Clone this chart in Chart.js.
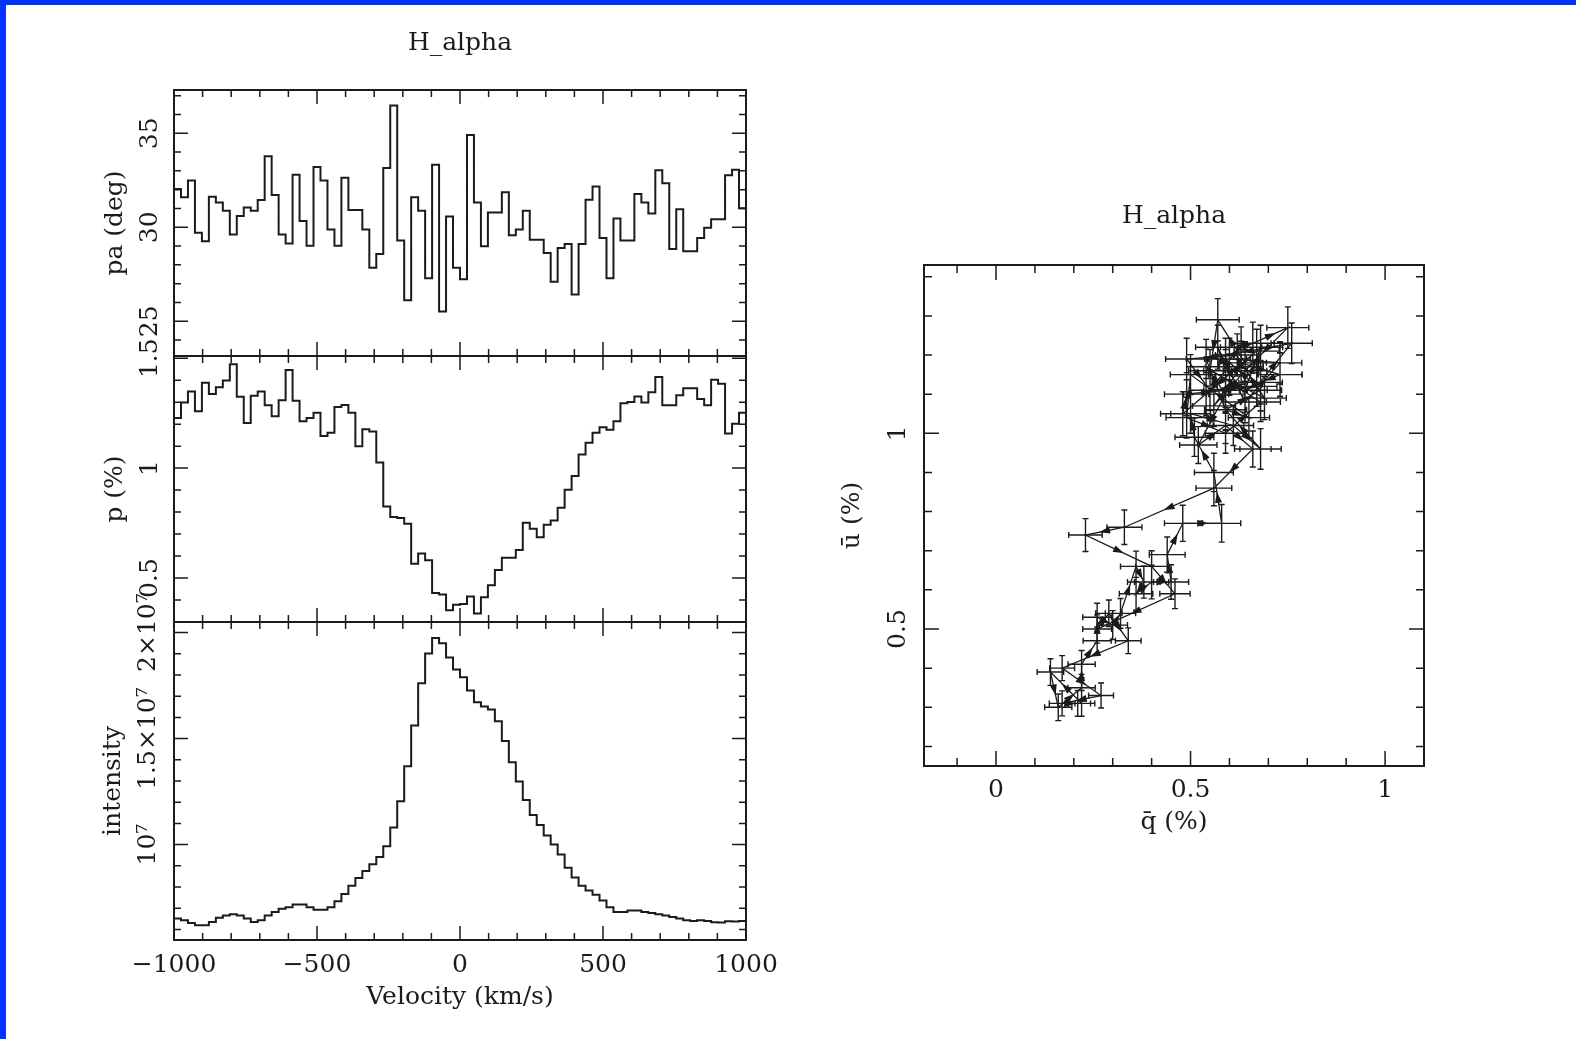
<!DOCTYPE html>
<html>
<head>
<meta charset="utf-8">
<script src="https://cdn.jsdelivr.net/npm/chart.js@4.4.1/dist/chart.umd.min.js"></script>
<style>
  html, body { margin: 0; padding: 0; background: #fff; }
  #page { position: relative; width: 1576px; height: 1039px; overflow: hidden; background: #fff; }
  #page canvas { position: absolute; left: 0; top: 0; }
  .edgeTop { position: absolute; left: 0; top: 0; width: 1576px; height: 5px; background: #0033ff; }
  .edgeLeft { position: absolute; left: 0; top: 0; width: 6px; height: 1039px; background: #0033ff; }
</style>
</head>
<body>
<div id="page">
  <canvas id="cPa" width="1576" height="1039"></canvas>
  <canvas id="cP" width="1576" height="1039"></canvas>
  <canvas id="cInt" width="1576" height="1039"></canvas>
  <canvas id="cQU" width="1576" height="1039"></canvas>
  <div class="edgeTop"></div>
  <div class="edgeLeft"></div>
</div>
<script>
// H_alpha spectropolarimetry, 82 velocity bins from -1000 to 1000 km/s

const vMin = -1000, vMax = 1000;

// position angle (deg)
const paDeg = [
  32.04, 31.59, 32.49, 29.70, 29.25, 31.62, 31.32, 30.87, 29.61, 30.60,
  31.05, 30.87, 31.45, 33.78, 31.71, 29.61, 29.13, 32.79, 30.33, 29.02,
  33.20, 32.49, 29.88, 29.02, 32.63, 30.91, 30.91, 29.88, 27.85, 28.57,
  33.15, 36.47, 29.29, 26.11, 31.59, 30.87, 27.28, 33.33, 25.52, 30.57,
  27.85, 27.23, 34.91, 31.32, 28.99, 30.78, 30.78, 31.86, 29.58, 29.88,
  30.87, 29.33, 29.33, 28.63, 27.10, 28.90, 29.11, 26.42, 29.11, 31.46,
  32.16, 29.43, 27.28, 30.46, 29.29, 29.29, 31.77, 31.32, 30.73, 33.03,
  32.34, 28.84, 30.96, 28.72, 28.72, 29.43, 29.97, 30.42, 30.42, 32.76,
  33.06, 31.01
];

// polarisation (%)
const pPct = [
  1.228, 1.298, 1.349, 1.259, 1.388, 1.337, 1.368, 1.399, 1.472, 1.325,
  1.205, 1.329, 1.349, 1.286, 1.236, 1.309, 1.446, 1.306, 1.213, 1.228,
  1.252, 1.146, 1.161, 1.278, 1.287, 1.252, 1.099, 1.177, 1.166, 1.026,
  0.825, 0.778, 0.773, 0.747, 0.565, 0.612, 0.581, 0.432, 0.425, 0.354,
  0.379, 0.382, 0.416, 0.339, 0.413, 0.467, 0.537, 0.592, 0.592, 0.627,
  0.752, 0.724, 0.685, 0.742, 0.762, 0.820, 0.902, 0.964, 1.062, 1.115,
  1.161, 1.186, 1.174, 1.213, 1.295, 1.301, 1.326, 1.298, 1.345, 1.415,
  1.286, 1.286, 1.332, 1.363, 1.363, 1.314, 1.286, 1.402, 1.384, 1.158,
  1.202, 1.252
];

// intensity, units of 1e7
const intensity1e7 = [
  0.651, 0.643, 0.630, 0.620, 0.620, 0.635, 0.655, 0.666, 0.671, 0.666,
  0.651, 0.635, 0.643, 0.666, 0.682, 0.697, 0.705, 0.717, 0.717, 0.705,
  0.693, 0.693, 0.705, 0.733, 0.767, 0.806, 0.842, 0.876, 0.907, 0.941,
  0.992, 1.081, 1.205, 1.370, 1.562, 1.761, 1.901, 1.975, 1.950, 1.882,
  1.826, 1.789, 1.727, 1.671, 1.652, 1.637, 1.582, 1.489, 1.388, 1.298,
  1.210, 1.140, 1.093, 1.043, 1.000, 0.953, 0.891, 0.845, 0.806, 0.783,
  0.764, 0.736, 0.705, 0.682, 0.682, 0.689, 0.689, 0.682, 0.677, 0.671,
  0.666, 0.658, 0.651, 0.643, 0.640, 0.643, 0.640, 0.634, 0.632, 0.638,
  0.637, 0.640
];

// binned Stokes q, u (%) and their errors
const qBar = [
  0.54, 0.59, 0.57, 0.64, 0.73, 0.60, 0.63, 0.66, 0.75, 0.64,
  0.56, 0.63, 0.62, 0.49, 0.55, 0.67, 0.76, 0.54, 0.59, 0.65,
  0.50, 0.49, 0.59, 0.68, 0.54, 0.59, 0.52, 0.59, 0.66, 0.56,
  0.33, 0.23, 0.40, 0.46, 0.26, 0.29, 0.34, 0.17, 0.27, 0.17,
  0.21, 0.22, 0.14, 0.16, 0.22, 0.22, 0.26, 0.26, 0.30, 0.32,
  0.36, 0.38, 0.36, 0.40, 0.45, 0.44, 0.48, 0.58, 0.56, 0.51,
  0.50, 0.61, 0.68, 0.59, 0.68, 0.68, 0.59, 0.60, 0.64, 0.57,
  0.55, 0.69, 0.63, 0.73, 0.73, 0.68, 0.64, 0.68, 0.67, 0.48,
  0.49, 0.59
];
const uBar = [
  1.10, 1.16, 1.22, 1.08, 1.18, 1.19, 1.22, 1.23, 1.27, 1.16,
  1.07, 1.17, 1.20, 1.19, 1.11, 1.12, 1.23, 1.19, 1.06, 1.04,
  1.15, 1.04, 1.00, 1.08, 1.17, 1.10, 0.97, 1.02, 0.96, 0.86,
  0.76, 0.74, 0.66, 0.59, 0.50, 0.54, 0.47, 0.40, 0.33, 0.31,
  0.31, 0.31, 0.39, 0.30, 0.35, 0.41, 0.47, 0.53, 0.51, 0.54,
  0.66, 0.62, 0.59, 0.62, 0.62, 0.69, 0.77, 0.77, 0.90, 0.99,
  1.05, 1.02, 0.96, 1.06, 1.11, 1.11, 1.19, 1.15, 1.18, 1.29,
  1.16, 1.09, 1.18, 1.15, 1.15, 1.13, 1.11, 1.22, 1.21, 1.05,
  1.10, 1.11
];
const qErr = [
  0.058, 0.056, 0.057, 0.055, 0.056, 0.054, 0.053, 0.055, 0.054, 0.056,
  0.055, 0.057, 0.056, 0.054, 0.053, 0.052, 0.053, 0.051, 0.052, 0.053,
  0.052, 0.053, 0.052, 0.051, 0.050, 0.049, 0.048, 0.047, 0.047, 0.046,
  0.045, 0.043, 0.041, 0.039, 0.037, 0.034, 0.033, 0.032, 0.032, 0.033,
  0.033, 0.034, 0.034, 0.035, 0.035, 0.035, 0.036, 0.037, 0.038, 0.039,
  0.040, 0.042, 0.043, 0.044, 0.045, 0.046, 0.047, 0.049, 0.050, 0.050,
  0.051, 0.052, 0.053, 0.054, 0.054, 0.053, 0.054, 0.054, 0.055, 0.055,
  0.055, 0.056, 0.056, 0.056, 0.057, 0.056, 0.057, 0.057, 0.058, 0.057,
  0.057, 0.056
];
const uErr = [
  0.055, 0.054, 0.056, 0.053, 0.054, 0.053, 0.052, 0.054, 0.053, 0.054,
  0.053, 0.055, 0.054, 0.053, 0.052, 0.051, 0.052, 0.050, 0.051, 0.052,
  0.051, 0.052, 0.051, 0.050, 0.049, 0.048, 0.047, 0.046, 0.046, 0.045,
  0.044, 0.042, 0.040, 0.038, 0.036, 0.034, 0.033, 0.032, 0.032, 0.032,
  0.033, 0.033, 0.034, 0.034, 0.034, 0.035, 0.035, 0.036, 0.037, 0.038,
  0.039, 0.041, 0.042, 0.043, 0.044, 0.045, 0.046, 0.048, 0.049, 0.049,
  0.050, 0.051, 0.052, 0.053, 0.053, 0.052, 0.053, 0.053, 0.054, 0.054,
  0.054, 0.055, 0.055, 0.055, 0.056, 0.055, 0.056, 0.056, 0.056, 0.056,
  0.055, 0.055
];

// tick labels
const velocityTicks = [-1000, -500, 0, 500, 1000];
const paTicks = [25, 30, 35];
const pTicks = [0.5, 1, 1.5];
const intensityTicks = [1, 1.5, 2];
const intensityTickText = ['10\u2077', '1.5\u00d710\u2077', '2\u00d710\u2077'];
const qTicks = [0, 0.5, 1];
const uTicks = [0.5, 1];

const INK = '#1b1b1b';
const FONT = '"DejaVu Serif", "Liberation Serif", serif';
const FSIZE = 25;

const fmt = v => String(v).replace('-', '\u2212');

// PGPLOT style box: frame, inward ticks on all sides, rotated y labels
const pgBox = {
  id: 'pgBox',
  afterDraw(chart, args, o) {
    const ctx = chart.ctx, a = chart.chartArea;
    const xs = chart.scales.x, ys = chart.scales.y;
    ctx.save();
    ctx.strokeStyle = INK;
    ctx.lineCap = 'butt';

    const each = (min, max, step, fn) => {
      for (let k = Math.ceil(min / step - 1e-9); k * step <= max + 1e-9; k++) fn(k * step, k);
    };
    ctx.lineWidth = 1.5;
    ctx.beginPath();
    each(xs.min, xs.max, o.xMinor, (v) => {
      const major = Math.abs(v / o.xMajor - Math.round(v / o.xMajor)) < 1e-6;
      const len = major ? o.majorLen : o.minorLen;
      const px = xs.getPixelForValue(v);
      ctx.moveTo(px, a.bottom); ctx.lineTo(px, a.bottom - len);
      ctx.moveTo(px, a.top); ctx.lineTo(px, a.top + len);
    });
    each(ys.min, ys.max, o.yMinor, (v) => {
      const major = Math.abs(v / o.yMajor - Math.round(v / o.yMajor)) < 1e-6;
      const len = major ? o.majorLen : o.minorLen;
      const py = ys.getPixelForValue(v);
      ctx.moveTo(a.left, py); ctx.lineTo(a.left + len, py);
      ctx.moveTo(a.right, py); ctx.lineTo(a.right - len, py);
    });
    ctx.stroke();

    ctx.lineWidth = 2;
    ctx.strokeRect(a.left, a.top, a.right - a.left, a.bottom - a.top);

    ctx.fillStyle = INK;
    ctx.font = FSIZE + 'px ' + FONT;
    ctx.textAlign = 'center';
    ctx.textBaseline = 'middle';
    const rot = (text, x, y) => {
      ctx.save(); ctx.translate(x, y); ctx.rotate(-Math.PI / 2);
      ctx.fillText(text, 0, 0); ctx.restore();
    };
    (o.yTicks || []).forEach((v, i) => {
      const t = o.yText ? o.yText[i] : fmt(v);
      rot(t, o.yLabelX, ys.getPixelForValue(v));
    });
    if (o.yTitle) rot(o.yTitle, o.yTitleX, (a.top + a.bottom) / 2);
    (o.xTicks || []).forEach(v => {
      ctx.fillText(fmt(v), xs.getPixelForValue(v), o.xLabelY);
    });
    if (o.xTitle) ctx.fillText(o.xTitle, (a.left + a.right) / 2, o.xTitleY);
    ctx.restore();
  }
};

// error crosses and direction arrows for the q-u track
const quMarks = {
  id: 'quMarks',
  afterDatasetsDraw(chart) {
    const ctx = chart.ctx, xs = chart.scales.x, ys = chart.scales.y;
    ctx.save();
    ctx.strokeStyle = INK;
    ctx.fillStyle = INK;
    ctx.lineWidth = 1.4;
    ctx.beginPath();
    qBar.forEach((q, i) => {
      const u = uBar[i];
      const x0 = xs.getPixelForValue(q - qErr[i]), x1 = xs.getPixelForValue(q + qErr[i]);
      const y0 = ys.getPixelForValue(u - uErr[i]), y1 = ys.getPixelForValue(u + uErr[i]);
      const px = xs.getPixelForValue(q), py = ys.getPixelForValue(u);
      ctx.moveTo(x0, py); ctx.lineTo(x1, py);
      ctx.moveTo(px, y0); ctx.lineTo(px, y1);
      ctx.moveTo(x0, py - 3); ctx.lineTo(x0, py + 3);
      ctx.moveTo(x1, py - 3); ctx.lineTo(x1, py + 3);
      ctx.moveTo(px - 3, y0); ctx.lineTo(px + 3, y0);
      ctx.moveTo(px - 3, y1); ctx.lineTo(px + 3, y1);
    });
    ctx.stroke();
    for (let i = 1; i < qBar.length; i++) {
      const ax = xs.getPixelForValue(qBar[i - 1]), ay = ys.getPixelForValue(uBar[i - 1]);
      const bx = xs.getPixelForValue(qBar[i]), by = ys.getPixelForValue(uBar[i]);
      const dx = bx - ax, dy = by - ay, L = Math.hypot(dx, dy);
      if (L < 12) continue;
      const ux = dx / L, uy = dy / L, mx = (ax + bx) / 2, my = (ay + by) / 2;
      ctx.beginPath();
      ctx.moveTo(mx + ux * 6, my + uy * 6);
      ctx.lineTo(mx - ux * 5 - uy * 3.5, my - uy * 5 + ux * 3.5);
      ctx.lineTo(mx - ux * 5 + uy * 3.5, my - uy * 5 - ux * 3.5);
      ctx.closePath();
      ctx.fill();
    }
    ctx.restore();
  }
};

// each value is held over its bin [left edge, right edge)
const binWidth = (vMax - vMin) / paDeg.length;
const stepPoints = vals => vals.map((v, i) => ({ x: vMin + i * binWidth, y: v }))
  .concat([{ x: vMax, y: vals[vals.length - 1] }]);

const titleOpts = (padTop, padBottom) => ({
  display: true, text: 'H_alpha', fullSize: false, color: INK,
  font: { family: FONT, size: FSIZE, weight: 'normal', lineHeight: 1.2 },
  padding: { top: padTop, bottom: padBottom }
});

function stepPanel(id, values, yMin, yMax, pad, box, title) {
  return new Chart(document.getElementById(id), {
    type: 'line',
    data: {
      datasets: [{
        data: stepPoints(values), stepped: 'before', borderColor: INK, borderWidth: 2,
        pointRadius: 0, fill: false
      }]
    },
    options: {
      responsive: false, animation: false, events: [],
      layout: { padding: pad },
      scales: {
        x: { type: 'linear', display: false, min: vMin, max: vMax },
        y: { type: 'linear', display: false, min: yMin, max: yMax }
      },
      plugins: {
        legend: { display: false }, tooltip: { enabled: false },
        title: title || { display: false },
        pgBox: Object.assign({ xMajor: 500, xMinor: 100, majorLen: 14, minorLen: 7, yLabelX: 150, yTitleX: 115 }, box)
      }
    },
    plugins: [pgBox]
  });
}

// left column: three stacked panels sharing the velocity axis
stepPanel('cPa', paDeg, 23.15, 37.3,
  { left: 174, right: 830, top: 0, bottom: 683 },
  { yMajor: 5, yMinor: 1, yTicks: paTicks, yTitle: 'pa (deg)' },
  titleOpts(28, 32));

stepPanel('cP', pPct, 0.3, 1.51,
  { left: 174, right: 830, top: 356, bottom: 417 },
  { yMajor: 0.5, yMinor: 0.1, yTicks: pTicks, yTitle: 'p (%)' });

stepPanel('cInt', intensity1e7, 0.55, 2.05,
  { left: 174, right: 830, top: 622, bottom: 99 },
  { yMajor: 0.5, yMinor: 0.1, yTicks: intensityTicks, yText: intensityTickText, yLabelX: 148,
    yTitle: 'intensity', yTitleX: 113,
    xTicks: velocityTicks, xLabelY: 965, xTitle: 'Velocity (km/s)', xTitleY: 997 });

// right: q-u plane
new Chart(document.getElementById('cQU'), {
  type: 'scatter',
  data: {
    datasets: [{
      data: qBar.map((q, i) => ({ x: q, y: uBar[i] })),
      showLine: true, borderColor: INK, borderWidth: 1.3, pointRadius: 0
    }]
  },
  options: {
    responsive: false, animation: false, events: [],
    layout: { padding: { left: 924, right: 152, top: 0, bottom: 273 } },
    scales: {
      x: { type: 'linear', display: false, min: -0.185, max: 1.10 },
      y: { type: 'linear', display: false, min: 0.15, max: 1.43 }
    },
    plugins: {
      legend: { display: false }, tooltip: { enabled: false },
      title: titleOpts(201, 34),
      pgBox: {
        xMajor: 0.5, xMinor: 0.1, yMajor: 0.5, yMinor: 0.1, majorLen: 15, minorLen: 8,
        xTicks: qTicks, xLabelY: 790, xTitle: 'q\u0304 (%)', xTitleY: 822,
        yTicks: uTicks, yLabelX: 898, yTitle: 'u\u0304 (%)', yTitleX: 852
      }
    }
  },
  plugins: [pgBox, quMarks]
});
</script>
</body>
</html>
